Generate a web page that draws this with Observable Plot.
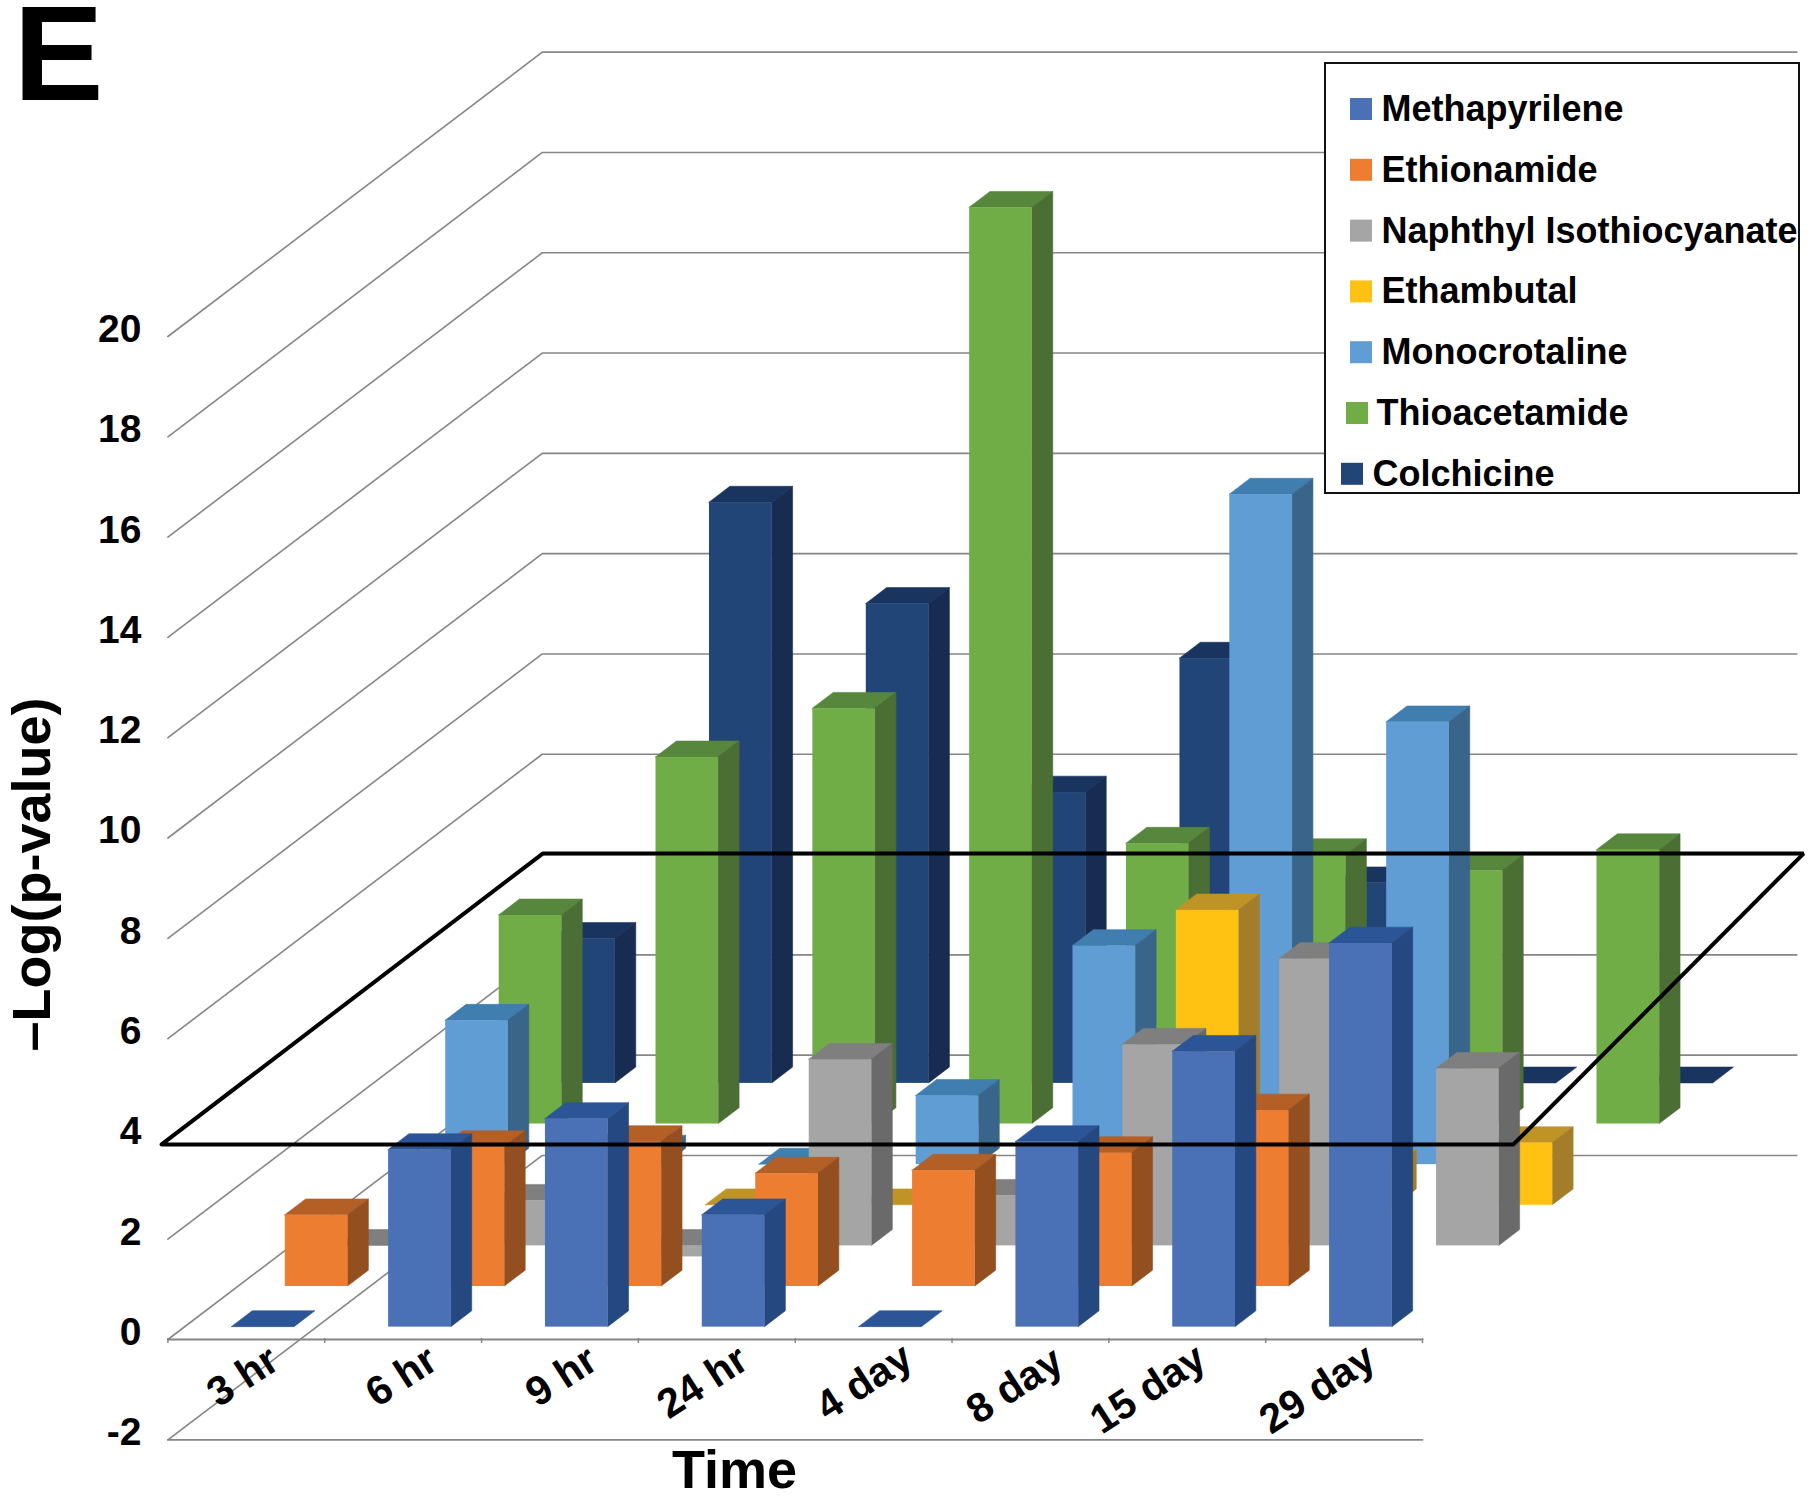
<!DOCTYPE html>
<html>
<head>
<meta charset="utf-8">
<script src="https://cdn.jsdelivr.net/npm/d3@7"></script>
<script src="https://cdn.jsdelivr.net/npm/@observablehq/plot@0.6"></script>
<style>
  html, body { margin: 0; padding: 0; background: #fff; overflow: hidden; }
  svg { display: block; }
</style>
</head>
<body>
<div id="chart"></div>
<script>
const categories = ["3 hr", "6 hr", "9 hr", "24 hr", "4 day", "8 day", "15 day", "29 day"];
const seriesNames = ["Methapyrilene", "Ethionamide", "Naphthyl Isothiocyanate", "Ethambutal", "Monocrotaline", "Thioacetamide", "Colchicine"];

const methapyrilene  = [0, 3.53, 4.15, 2.23, 0, 3.69, 5.49, 7.65];
const ethionamide    = [1.42, 2.78, 2.88, 2.25, 2.31, 2.66, 3.51, null];
const naphthyl       = [0, 0.9, -0.22, 3.71, 1.0, 4.01, 5.72, 3.53];
const ethambutal     = [0, 0, 0, 0, 0, 5.88, 0.78, 1.24];
const monocrotaline  = [2.87, 0.26, 0, 1.37, 4.36, 13.36, 8.82, null];
const thioacetamide  = [4.16, 7.31, 8.28, 18.27, 5.59, 5.36, 5.05, 5.46];
const colchicine     = [2.88, 11.58, 9.56, 5.8, 8.47, 3.99, 0, 0];
const seriesValues = [methapyrilene, ethionamide, naphthyl, ethambutal, monocrotaline, thioacetamide, colchicine];

const frontColors = ["#4a70b5", "#ed7d31", "#a5a5a5", "#ffc213", "#5f9dd4", "#70ad47", "#224577"];
const topColors   = ["#2c5597", "#b45f26", "#7f7f7f", "#c09326", "#3f7eae", "#56873c", "#1a3460"];
const sideColors  = ["#264880", "#944f20", "#6a6a6a", "#a37d2a", "#39658a", "#4b6e34", "#172c50"];

const valueTicks = [-2, 0, 2, 4, 6, 8, 10, 12, 14, 16, 18, 20];
// Outline of the black reference plane, in chart units (time position, value)
const planeTime  = [-0.04, 2.39, 10.43, 8.58, -0.04];
const planeValue = [3.87, 9.67, 9.67, 3.87, 3.87];
// Centres of the slanted time labels, in chart units
const labelX = [0.478, 1.49, 2.51, 3.41, 4.44, 5.4, 6.25, 7.33];
const labelY = [-0.76, -0.76, -0.76, -0.87, -0.87, -0.94, -1.01, -1.01];

// Oblique projection: one series step back moves the point right and up
const depthX = 0.341, depthY = 0.81, seriesCount = 7, timeCount = 8;
const barW = 0.4, barD = 0.39, barStart = 0.312, depthStart = 0.28;

const x0 = 167.4, x1 = 1422, y0 = 1338, yTop = 335;
const xFromPx = (p) => (p - x0) / ((x1 - x0) / timeCount);
const yFromPx = (p) => (y0 - p) / ((y0 - yTop) / 20);

const faces = (s) => {
  const rows = [], fronts = [];
  seriesValues[s].forEach((v, i) => {
    if (v == null) return;
    const d = s + depthStart;
    const xa = i + barStart + d * depthX, xb = xa + barW;
    const ox = barD * depthX, oy = barD * depthY;
    const y = d * depthY, hi = y + Math.max(v, 0), lo = y + Math.min(v, 0);
    const poly = (id, fill, pts) => pts.forEach(([px, py]) => rows.push({id: `${s}-${i}-${id}`, fill, px, py}));
    poly("top", topColors[s], [[xa, hi], [xb, hi], [xb + ox, hi + oy], [xa + ox, hi + oy], [xa, hi]]);
    if (hi > lo) {
      poly("side", sideColors[s], [[xb, hi], [xb + ox, hi + oy], [xb + ox, lo + oy], [xb, lo], [xb, hi]]);
      fronts.push({xa, xb, lo, hi, fill: frontColors[s]});
    }
  });
  return {rows, fronts};
};

const barMarks = d3.range(seriesCount - 1, -1, -1).flatMap((s) => {
  const {rows, fronts} = faces(s);
  return [
    Plot.line(rows, {x: "px", y: "py", z: "id", fill: "fill", stroke: "fill", strokeWidth: 0.6, curve: "linear", dx: -0.5, dy: -0.5}),
    Plot.rect(fronts, {x1: "xa", x2: "xb", y1: "lo", y2: "hi", fill: "fill", inset: 0})
  ];
});

const gridNudge = -0.02;
const wallEndX = seriesCount * depthX, wallEndY = seriesCount * depthY;
const gridRows = valueTicks.flatMap((v) => [
  {id: v, gx: 0, gy: v + gridNudge},
  {id: v, gx: wallEndX, gy: v + wallEndY + gridNudge},
  {id: v, gx: wallEndX + timeCount, gy: v + wallEndY + gridNudge}
]);
const floorRows = [-2, 0].flatMap((v) => [
  {id: v, gx: 0, gy: v + gridNudge},
  {id: v, gx: timeCount, gy: v + gridNudge}
]);

const legendRows = seriesNames.map((name, s) => ({
  name, fill: frontColors[s],
  sx: s === 6 ? 1341 : s === 5 ? 1346 : 1350,
  tx: s === 6 ? 1372 : s === 5 ? 1376 : 1381,
  cy: 109 + s * 60.8
}));

const fontFamily = "Liberation Sans, Arial, sans-serif";
const greyLine = "#868686";

const chart = Plot.plot({
  width: 1810,
  height: 1500,
  marginLeft: 141, marginTop: 0, marginRight: 0, marginBottom: 0,
  style: {fontFamily, background: "#fff", overflow: "visible"},
  x: {domain: [0, timeCount], range: [x0, x1], axis: null},
  y: {domain: [0, 20], range: [y0, yTop], axis: null},
  color: {type: "identity"},
  marks: [
    Plot.line(gridRows, {x: "gx", y: "gy", z: "id", stroke: greyLine, strokeWidth: 1.6}),
    Plot.line(floorRows, {x: "gx", y: "gy", z: "id", stroke: greyLine, strokeWidth: 1.8}),
    Plot.ruleX(d3.range(0, timeCount + 1), {y1: -0.1, y2: 0, stroke: greyLine, strokeWidth: 1.5}),
    ...barMarks,
    Plot.line(planeTime.map((t, i) => ({t, v: planeValue[i]})), {x: "t", y: "v", stroke: "#000", strokeWidth: 4, strokeLinejoin: "miter"}),
    Plot.axisY({ticks: valueTicks, anchor: "left", tickSize: 0, tickPadding: 0, label: null, tickFormat: (d) => String(d), fontSize: 39, fontWeight: "bold", dy: -6, fill: "#000"}),
    Plot.text(categories, {x: (d, i) => labelX[i], y: (d, i) => labelY[i], text: (d) => d, rotate: -33, textAnchor: "middle", fontSize: 41, fontWeight: "bold", fill: "#000"}),
    Plot.text(["Time"], {x: xFromPx(734), y: yFromPx(1470), fontSize: 54, fontWeight: "bold", fill: "#000"}),
    Plot.text(["–Log(p-value)"], {x: xFromPx(32), y: yFromPx(874), rotate: -90, fontSize: 54, fontWeight: "bold", fill: "#000"}),
    Plot.text(["E"], {x: xFromPx(13), y: yFromPx(102), textAnchor: "start", lineAnchor: "bottom", fontSize: 135, fontWeight: "bold", fill: "#000", dy: -3}),
    Plot.rect([0], {x1: xFromPx(1325), x2: xFromPx(1799), y1: yFromPx(493), y2: yFromPx(63), fill: "#fff", stroke: "#111", strokeWidth: 2}),
    Plot.rect(legendRows, {x1: (d) => xFromPx(d.sx), x2: (d) => xFromPx(d.sx + 22), y1: (d) => yFromPx(d.cy + 11), y2: (d) => yFromPx(d.cy - 11), fill: "fill"}),
    Plot.text(legendRows, {x: (d) => xFromPx(d.tx), y: (d) => yFromPx(d.cy), text: "name", textAnchor: "start", fontSize: 36, fontWeight: "bold", fill: "#000"})
  ]
});
document.getElementById("chart").appendChild(chart);
</script>
</body>
</html>
